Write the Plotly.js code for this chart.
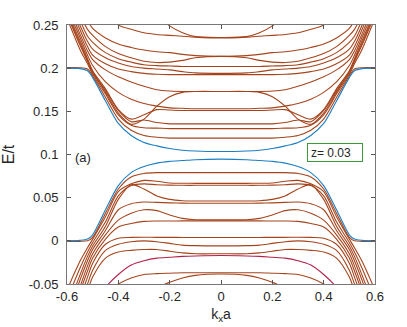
<!DOCTYPE html>
<html>
<head>
<meta charset="utf-8">
<script src="https://cdn.plot.ly/plotly-3.0.1.min.js"></script>
<style>
  html, body { margin: 0; padding: 0; background: #fff; }
  #chart { width: 407px; height: 327px; }
</style>
</head>
<body>
<div id="chart"></div>
<script>
// k_x a sample points, left half (the bands are symmetric about k = 0)
const ks = [-0.6, -0.55, -0.52, -0.5, -0.45, -0.4, -0.35, -0.3, -0.25, -0.2, -0.15, -0.1, 0];

// conduction side (E/t)
const condBlue = [0.2, 0.1995, 0.197, 0.189, 0.162, 0.136, 0.122, 0.114, 0.110, 0.107, 0.105, 0.104, 0.1034];
const condB1 = [0.2006, 0.2005, 0.199, 0.191, 0.166, 0.141, 0.128, 0.122, 0.120, 0.119, 0.119, 0.119, 0.119];
const condB2 = [0.258, 0.222, 0.205, 0.193, 0.170, 0.146, 0.134, 0.131, 0.1305, 0.130, 0.130, 0.130, 0.130];
const condB3 = [0.262, 0.227, 0.208, 0.195, 0.174, 0.151, 0.138, 0.140, 0.137, 0.1355, 0.1355, 0.1355, 0.1355];
const condB4 = [0.266, 0.232, 0.211, 0.197, 0.176, 0.152, 0.141, 0.146, 0.152, 0.1515, 0.151, 0.151, 0.151];
const condB5 = [0.270, 0.236, 0.215, 0.203, 0.184, 0.172, 0.164, 0.159, 0.156, 0.154, 0.1535, 0.153, 0.153];
const condB6a = [0.264, 0.229, 0.209, 0.196, 0.172, 0.148, 0.135, 0.141, 0.156, 0.167, 0.172, 0.173, 0.173];
const condB6b = [0.275, 0.240, 0.220, 0.210, 0.198, 0.190, 0.184, 0.179, 0.175, 0.1735, 0.173, 0.173, 0.173];
const condB7 = [0.280, 0.245, 0.225, 0.215, 0.205, 0.199, 0.196, 0.194, 0.193, 0.1925, 0.1925, 0.1925, 0.1925];
const condB8 = [0.285, 0.250, 0.231, 0.222, 0.212, 0.206, 0.202, 0.200, 0.199, 0.198, 0.196, 0.1945, 0.194];
const condB9 = [0.290, 0.256, 0.237, 0.230, 0.218, 0.211, 0.207, 0.204, 0.203, 0.2025, 0.202, 0.202, 0.202];
const condB10 = [0.295, 0.262, 0.245, 0.238, 0.225, 0.217, 0.212, 0.208, 0.2065, 0.207, 0.209, 0.212, 0.2137];
const condB11 = [0.300, 0.268, 0.255, 0.246, 0.235, 0.228, 0.224, 0.221, 0.219, 0.218, 0.216, 0.2145, 0.2137];
const condB12 = [0.330, 0.310, 0.295, 0.285, 0.265, 0.250, 0.245, 0.241, 0.239, 0.238, 0.237, 0.236, 0.235];
const condB13 = [0.450, 0.420, 0.400, 0.390, 0.360, 0.330, 0.300, 0.280, 0.262, 0.249, 0.241, 0.2365, 0.2356];

// valence side
const valBlue = [0.0, 0.0005, 0.002, 0.007, 0.036, 0.064, 0.079, 0.086, 0.090, 0.092, 0.093, 0.094, 0.0946];
const valD1 = [-0.0006, -0.0006, 0.0, 0.004, 0.032, 0.060, 0.074, 0.078, 0.079, 0.079, 0.079, 0.079, 0.079];
const valD2 = [-0.057, -0.024, -0.008, 0.002, 0.028, 0.057, 0.066, 0.070, 0.069, 0.067, 0.0667, 0.0666, 0.0666];
const valD3 = [-0.068, -0.032, -0.013, -0.002, 0.022, 0.052, 0.064, 0.066, 0.065, 0.0645, 0.0643, 0.0643, 0.0643];
const valD4 = [-0.080, -0.040, -0.018, -0.006, 0.017, 0.048, 0.065, 0.060, 0.052, 0.048, 0.0465, 0.0462, 0.0462];
const valD5 = [-0.090, -0.046, -0.023, -0.010, 0.012, 0.036, 0.043, 0.045, 0.0445, 0.044, 0.0437, 0.0435, 0.0435];
const valD6 = [-0.100, -0.054, -0.029, -0.015, 0.007, 0.024, 0.032, 0.036, 0.035, 0.030, 0.026, 0.0245, 0.0243];
const valD7 = [-0.110, -0.060, -0.035, -0.020, 0.002, 0.016, 0.020, 0.0225, 0.023, 0.023, 0.0231, 0.0231, 0.0231];
const valD8 = [-0.120, -0.068, -0.042, -0.026, -0.004, 0.003, 0.004, 0.0042, 0.004, 0.004, 0.0039, 0.0038, 0.0038];
const valD9 = [-0.130, -0.076, -0.050, -0.034, -0.011, -0.004, -0.001, 0.0, -0.001, -0.003, -0.005, -0.0056, -0.0058];
const valD10 = [-0.140, -0.084, -0.058, -0.042, -0.020, -0.013, -0.011, -0.010, -0.010, -0.012, -0.014, -0.015, -0.015];
const valRed = [-0.130, -0.100, -0.087, -0.078, -0.054, -0.039, -0.028, -0.023, -0.020, -0.019, -0.018, -0.0175, -0.017];
const valD11 = [-0.160, -0.120, -0.100, -0.090, -0.062, -0.050, -0.043, -0.039, -0.038, -0.0375, -0.037, -0.037, -0.037];
const valD12 = [-0.300, -0.250, -0.220, -0.200, -0.160, -0.120, -0.090, -0.070, -0.055, -0.048, -0.043, -0.040, -0.0385];

const brownBands = [condB1, condB2, condB3, condB4, condB5, condB6a, condB6b, condB7, condB8, condB9,
  condB10, condB11, condB12, condB13, valD1, valD2, valD3, valD4, valD5, valD6, valD7, valD8, valD9,
  valD10, valD11, valD12];
const blueBands = [condBlue, valBlue];
const redBands = [valRed];

const xTicks = [-0.6, -0.4, -0.2, 0, 0.2, 0.4, 0.6];
const xTickText = ["-0.6", "-0.4", "-0.2", "0", "0.2", "0.4", "0.6"];
const yTicks = [-0.05, 0, 0.05, 0.1, 0.15, 0.2, 0.25];
const yTickText = ["-0.05", "0", "0.05", "0.1", "0.15", "0.2", "0.25"];

const legendText = "z= 0.03";
const panelLabel = "(a)";

// mirror the left half onto k > 0
function fullK() {
  return ks.concat(ks.slice(0, -1).reverse().map(k => -k));
}
function fullE(half) {
  return half.concat(half.slice(0, -1).reverse());
}

function band(half, color) {
  return {
    x: fullK(),
    y: fullE(half),
    type: "scatter",
    mode: "lines",
    line: { color: color, width: 1.1, shape: "spline", smoothing: 0.8 },
    hoverinfo: "skip",
    showlegend: false
  };
}

function drawBands() {
  const traces = [];
  brownBands.forEach(b => traces.push(band(b, "#a5441c")));
  redBands.forEach(b => traces.push(band(b, "#b3204a")));
  blueBands.forEach(b => traces.push(band(b, "#1a7fc4")));

  const axisCommon = {
    ticks: "inside",
    ticklen: 4,
    tickcolor: "#555",
    showline: true,
    linecolor: "#777",
    linewidth: 1,
    mirror: "ticks",
    showgrid: false,
    zeroline: false
  };

  Plotly.newPlot("chart", traces, {
    width: 407,
    height: 327,
    margin: { l: 67, r: 32, t: 25, b: 43 },
    paper_bgcolor: "#fff",
    plot_bgcolor: "#fff",
    font: { family: "Liberation Sans, Arial, sans-serif", size: 13, color: "#262626" },
    xaxis: Object.assign({}, axisCommon, {
      range: [-0.6, 0.6],
      tickvals: xTicks,
      ticktext: xTickText,
      title: { text: "k<sub>x</sub>a", font: { size: 14 }, standoff: 6 }
    }),
    yaxis: Object.assign({}, axisCommon, {
      range: [-0.05, 0.25],
      tickvals: yTicks,
      ticktext: yTickText,
      ticklabelstandoff: 5,
      title: { text: "E/t", font: { size: 16 }, standoff: 10 }
    }),
    annotations: [
      {
        x: -0.575, y: 0.097, xref: "x", yref: "y",
        text: panelLabel, showarrow: false,
        xanchor: "left", yanchor: "middle",
        font: { size: 13, color: "#262626" }
      },
      {
        x: 0.4426, y: 0.102, xref: "x", yref: "y",
        text: legendText, showarrow: false,
        xanchor: "center", yanchor: "middle",
        align: "left", width: 48, height: 11,
        bordercolor: "#3a9a3a", borderwidth: 1, borderpad: 3,
        bgcolor: "#fff",
        font: { size: 12, color: "#262626" }
      }
    ]
  }, { displayModeBar: false, staticPlot: true });
}

drawBands();
</script>
</body>
</html>
